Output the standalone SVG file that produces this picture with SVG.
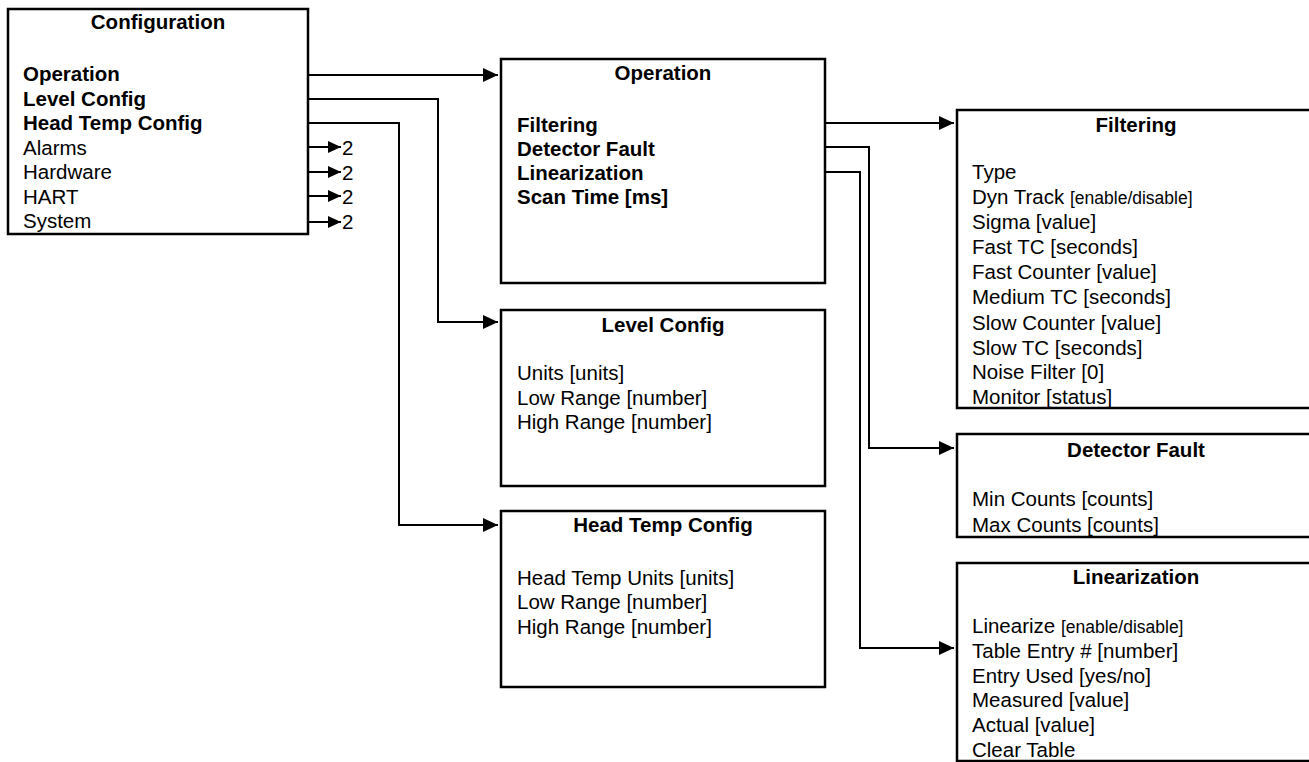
<svg xmlns="http://www.w3.org/2000/svg" width="1309" height="762" viewBox="0 0 1309 762">
  <style>
    .box { fill: #ffffff; stroke: #000000; stroke-width: 2.5; }
    .t { font-family: "Liberation Sans", Arial, sans-serif; font-size: 20.5px; fill: #000000; }
    .b { font-weight: bold; }
    .c { text-anchor: middle; }
    .s { font-size: 17.5px; }
    .ln { fill: none; stroke: #000000; stroke-width: 2; }
  </style>
  <defs>
    <marker id="ah" viewBox="0 0 15 14" refX="15" refY="7" markerWidth="15" markerHeight="14" markerUnits="userSpaceOnUse" orient="auto">
      <path d="M0,0 L15,7 L0,14 z" fill="#000000"/>
    </marker>
    <marker id="ahs" viewBox="0 0 13 12" refX="13" refY="6" markerWidth="13" markerHeight="12" markerUnits="userSpaceOnUse" orient="auto">
      <path d="M0,0 L13,6 L0,12 z" fill="#000000"/>
    </marker>
  </defs>

  <g id="connectors">
    <path class="ln" d="M308,75 H498" marker-end="url(#ah)"/>
    <path class="ln" d="M308,99 H438 V322 H498" marker-end="url(#ah)"/>
    <path class="ln" d="M308,123 H399 V525 H498" marker-end="url(#ah)"/>
    <path class="ln" d="M308,147 H341" marker-end="url(#ahs)"/>
    <path class="ln" d="M308,172 H341" marker-end="url(#ahs)"/>
    <path class="ln" d="M308,196 H341" marker-end="url(#ahs)"/>
    <path class="ln" d="M308,222 H341" marker-end="url(#ahs)"/>
    <path class="ln" d="M825,123 H954" marker-end="url(#ah)"/>
    <path class="ln" d="M825,147 H869 V448 H954" marker-end="url(#ah)"/>
    <path class="ln" d="M825,172 H860 V648 H954" marker-end="url(#ah)"/>
    <text class="t" x="342" y="155">2</text>
    <text class="t" x="342" y="180">2</text>
    <text class="t" x="342" y="204">2</text>
    <text class="t" x="342" y="229">2</text>
  </g>

  <g id="configuration">
    <rect class="box" x="8" y="9" width="300" height="225"/>
    <text class="t b c" x="158" y="29">Configuration</text>
    <text class="t b" x="23" y="81">Operation</text>
    <text class="t b" x="23" y="105.5">Level Config</text>
    <text class="t b" x="23" y="130">Head Temp Config</text>
    <text class="t" x="23" y="154.5">Alarms</text>
    <text class="t" x="23" y="179">Hardware</text>
    <text class="t" x="23" y="203.5">HART</text>
    <text class="t" x="23" y="228">System</text>
  </g>

  <g id="operation">
    <rect class="box" x="501" y="59" width="324" height="224"/>
    <text class="t b c" x="663" y="80">Operation</text>
    <text class="t b" x="517" y="131.5">Filtering</text>
    <text class="t b" x="517" y="155.5">Detector Fault</text>
    <text class="t b" x="517" y="179.5">Linearization</text>
    <text class="t b" x="517" y="203.5">Scan Time [ms]</text>
  </g>

  <g id="level-config">
    <rect class="box" x="501" y="310" width="324" height="176"/>
    <text class="t b c" x="663" y="331.5">Level Config</text>
    <text class="t" x="517" y="380">Units [units]</text>
    <text class="t" x="517" y="404.5">Low Range [number]</text>
    <text class="t" x="517" y="429">High Range [number]</text>
  </g>

  <g id="head-temp-config">
    <rect class="box" x="501" y="511" width="324" height="176"/>
    <text class="t b c" x="663" y="531.5">Head Temp Config</text>
    <text class="t" x="517" y="584.5">Head Temp Units [units]</text>
    <text class="t" x="517" y="609">Low Range [number]</text>
    <text class="t" x="517" y="633.5">High Range [number]</text>
  </g>

  <g id="filtering">
    <rect class="box" x="957" y="110" width="360" height="298"/>
    <text class="t b c" x="1136" y="131.5">Filtering</text>
    <text class="t" x="972" y="179">Type</text>
    <text class="t" x="972" y="203.5">Dyn Track <tspan class="s">[enable/disable]</tspan></text>
    <text class="t" x="972" y="228.5">Sigma [value]</text>
    <text class="t" x="972" y="254">Fast TC [seconds]</text>
    <text class="t" x="972" y="279">Fast Counter [value]</text>
    <text class="t" x="972" y="304">Medium TC [seconds]</text>
    <text class="t" x="972" y="329.5">Slow Counter [value]</text>
    <text class="t" x="972" y="354.5">Slow TC [seconds]</text>
    <text class="t" x="972" y="379">Noise Filter [0]</text>
    <text class="t" x="972" y="403.5">Monitor [status]</text>
  </g>

  <g id="detector-fault">
    <rect class="box" x="957" y="434" width="360" height="103"/>
    <text class="t b c" x="1136" y="456.5">Detector Fault</text>
    <text class="t" x="972" y="506">Min Counts [counts]</text>
    <text class="t" x="972" y="531.5">Max Counts [counts]</text>
  </g>

  <g id="linearization">
    <rect class="box" x="957" y="563" width="360" height="198"/>
    <text class="t b c" x="1136" y="583.5">Linearization</text>
    <text class="t" x="972" y="633">Linearize <tspan class="s">[enable/disable]</tspan></text>
    <text class="t" x="972" y="657.5">Table Entry # [number]</text>
    <text class="t" x="972" y="682.5">Entry Used [yes/no]</text>
    <text class="t" x="972" y="707">Measured [value]</text>
    <text class="t" x="972" y="732">Actual [value]</text>
    <text class="t" x="972" y="756.5">Clear Table</text>
  </g>
</svg>
